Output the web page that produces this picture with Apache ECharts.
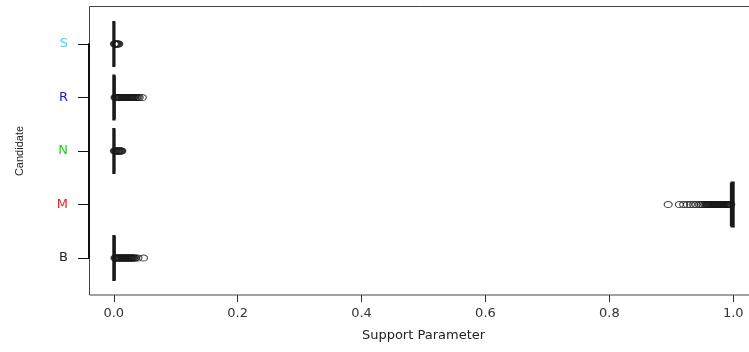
<!DOCTYPE html>
<html>
<head>
<meta charset="utf-8">
<script src="https://cdn.jsdelivr.net/npm/echarts@6/dist/echarts.min.js"></script>
<style>
  html, body { margin: 0; padding: 0; background: #fff; overflow: hidden; }
  #chart { width: 749px; height: 352px; }
</style>
</head>
<body>
<div id="chart"></div>
<script>
// categories, bottom to top
const candidates = ['B', 'M', 'N', 'R', 'S']
const labelColors = ['#222222', '#EE1C1C', '#1ED41E', '#1717E0', '#2EE3E3']

// box stats [min, Q1, median, Q3, max]
const boxB = [0, 0, 0, 0.0005, 0.001]
const boxM = [0.997, 0.998, 0.999, 1.0, 1.0]
const boxN = [0, 0, 0, 0.0003, 0.0006]
const boxR = [0, 0, 0, 0.0005, 0.001]
const boxS = [0, 0, 0, 0.0002, 0.0004]

// outliers
const outB = [0.002, 0.003, 0.004, 0.005, 0.006, 0.007, 0.008, 0.009, 0.010, 0.011, 0.012, 0.013,
  0.014, 0.015, 0.016, 0.017, 0.018, 0.019, 0.020, 0.021, 0.022, 0.023, 0.024, 0.025, 0.026,
  0.027, 0.028, 0.029, 0.030, 0.031, 0.032, 0.034, 0.035, 0.039, 0.048]
const outM = [0.895, 0.913, 0.920, 0.926, 0.931, 0.936, 0.940, 0.945, 0.948, 0.951, 0.954, 0.956,
  0.957, 0.958, 0.959, 0.960, 0.961, 0.962, 0.963, 0.964, 0.965, 0.966, 0.967, 0.968, 0.969,
  0.970, 0.971, 0.972, 0.973, 0.974, 0.975, 0.976, 0.977, 0.978, 0.979, 0.980, 0.981, 0.982,
  0.983, 0.984, 0.985, 0.986, 0.987, 0.988, 0.989, 0.990, 0.991, 0.992, 0.993, 0.994, 0.995, 0.996]
const outN = [0.001, 0.002, 0.003, 0.004, 0.005, 0.006, 0.007, 0.008, 0.009, 0.010, 0.011, 0.012, 0.013]
const outR = [0.002, 0.003, 0.004, 0.005, 0.006, 0.007, 0.008, 0.009, 0.010, 0.011, 0.012, 0.013,
  0.014, 0.015, 0.016, 0.017, 0.018, 0.019, 0.020, 0.021, 0.022, 0.023, 0.024, 0.025, 0.026,
  0.027, 0.028, 0.029, 0.030, 0.031, 0.032, 0.033, 0.035, 0.037, 0.039, 0.041, 0.046]
const outS = [0.001, 0.002, 0.003, 0.004, 0.005, 0.006, 0.007, 0.008]

const xTicks = [0, 0.2, 0.4, 0.6, 0.8, 1.0]

const boxes = [boxB, boxM, boxN, boxR, boxS]
const outliers = [outB, outM, outN, outR, outS]
const outlierData = []
outliers.forEach((list, i) => {
  list.forEach(v => outlierData.push([v, candidates[i]]))
})

const rich = {}
candidates.forEach((c, i) => {
  rich['c' + i] = { color: labelColors[i], fontSize: 13, fontFamily: 'DejaVu Sans' }
})

const chart = echarts.init(document.getElementById('chart'))
chart.setOption({
  animation: false,
  backgroundColor: '#fff',
  // plot frame; its right side lies past the page edge, as in the original
  graphic: [{
    type: 'rect', silent: true, z: 0,
    shape: { x: 89.5, y: 6.5, width: 700, height: 288.5 },
    style: { fill: null, stroke: '#444', lineWidth: 1 }
  }],
  grid: [
    // x axis ticks and labels
    { left: 89, right: -9, top: 6, bottom: 57, containLabel: false, outerBoundsMode: 'none' },
    // data
    { left: 89, right: -9, top: 17.25, bottom: 67.25, containLabel: false, outerBoundsMode: 'none' },
    // left axis between first and last tick
    { left: 89, right: -9, top: 44, bottom: 94, containLabel: false, outerBoundsMode: 'none' }
  ],
  xAxis: [
    {
      gridIndex: 0, type: 'value', min: -0.04, max: 1.04,
      axisLine: { show: false },
      splitLine: { show: false },
      axisTick: { show: true, customValues: xTicks, length: 7, lineStyle: { color: '#333' } },
      axisLabel: {
        customValues: xTicks, margin: 12, color: '#333', fontSize: 13, fontFamily: 'DejaVu Sans',
        formatter: v => v.toFixed(1)
      },
      name: 'Support Parameter', nameLocation: 'middle', nameGap: 34,
      nameTextStyle: { color: '#222', fontSize: 13, fontFamily: 'DejaVu Sans' }
    },
    { gridIndex: 1, type: 'value', min: -0.04, max: 1.04, show: false },
    { gridIndex: 2, type: 'value', min: -0.04, max: 1.04, show: false }
  ],
  yAxis: [
    { gridIndex: 0, type: 'value', min: 0, max: 1, show: false },
    { gridIndex: 1, type: 'category', data: candidates, show: false },
    {
      gridIndex: 2, type: 'value', position: 'left', min: 1, max: 5, interval: 1,
      splitLine: { show: false },
      axisLine: { show: true, onZero: false, lineStyle: { color: '#111', width: 2 } },
      axisTick: { show: true, length: 11, lineStyle: { color: '#111' } },
      axisLabel: {
        margin: 21, rich: rich,
        formatter: v => '{c' + (v - 1) + '|' + candidates[v - 1] + '}'
      },
      name: 'Candidate', nameLocation: 'middle', nameGap: 64, nameRotate: 90,
      nameTextStyle: { color: '#222', fontSize: 11, fontFamily: 'Liberation Sans' }
    }
  ],
  series: [
    {
      type: 'boxplot',
      xAxisIndex: 1, yAxisIndex: 1,
      boxWidth: ['80%', '80%'],
      itemStyle: { color: 'rgba(0,0,0,0)', borderColor: '#1a1a1a', borderWidth: 3 },
      data: boxes
    },
    {
      type: 'scatter',
      xAxisIndex: 1, yAxisIndex: 1,
      symbol: 'circle',
      symbolSize: [8, 6],
      itemStyle: { color: 'rgba(0,0,0,0)', borderColor: '#1a1a1a', borderWidth: 1 },
      data: outlierData
    }
  ]
})
</script>
</body>
</html>
